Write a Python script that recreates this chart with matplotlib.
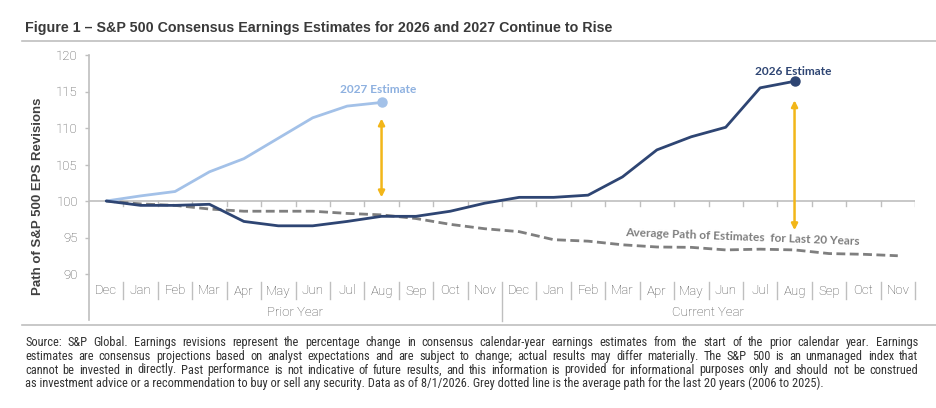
import matplotlib
matplotlib.use("Agg")
import matplotlib.pyplot as plt
from matplotlib.lines import Line2D
from matplotlib.transforms import blended_transform_factory
from matplotlib import font_manager as fm

# ---------------- data ----------------
months = ['Dec', 'Jan', 'Feb', 'Mar', 'Apr', 'May', 'Jun', 'Jul', 'Aug', 'Sep', 'Oct', 'Nov'] * 2
groups = ['Prior Year', 'Current Year']
est_2026 = [100.0, 99.4, 99.4, 99.55, 97.2, 96.6, 96.6, 97.2, 97.9, 97.9, 98.6, 99.7,
            100.5, 100.5, 100.8, 103.3, 107.0, 108.8, 110.1, 115.5, 116.4]
est_2027 = [100.0, 100.7, 101.3, 104.0, 105.8, 108.6, 111.4, 113.0, 113.5]
avg_path = [100.0, 99.6, 99.4, 98.9, 98.6, 98.6, 98.6, 98.3, 98.1, 97.6, 96.8, 96.2,
            95.8, 94.7, 94.5, 94.0, 93.7, 93.65, 93.3, 93.4, 93.3, 92.8, 92.7, 92.5]
arrow_2027 = (111.3, 100.5)   # (top, bottom) of the gold arrow at the 2027 end point
arrow_2026 = (113.8, 96.0)
y_ticks = [90, 95, 100, 105, 110, 115, 120]

title = "Figure 1 \u2013 S&P 500 Consensus Earnings Estimates for 2026 and 2027 Continue to Rise"
ylabel = "Path of S&P 500 EPS Revisions"
source_lines = [
    "Source: S&P Global. Earnings revisions represent the percentage change in consensus calendar-year earnings estimates from the start of the prior calendar year. Earnings",
    "estimates are consensus projections based on analyst expectations and are subject to change; actual results may differ materially. The S&P 500 is an unmanaged index that",
    "cannot be invested in directly. Past performance is not indicative of future results, and this information is provided for informational purposes only and should not be construed",
    "as investment advice or a recommendation to buy or sell any security. Data as of 8/1/2026. Grey dotted line is the average path for the last 20 years (2006 to 2025).",
]

# ---------------- style ----------------
navy = '#2E4573'
light = '#A3C1E8'
dash_gray = '#7F7F7F'
gold = '#F2B619'
axis_gray = '#BFBFBF'
tick_col = '#4D4D4D'

names = {f.name for f in fm.fontManager.ttflist}
def pick(*cands):
    for c in cands:
        if c in names:
            return c
    return 'DejaVu Sans'

f_title = pick('Liberation Sans', 'Arial')
f_tick = pick('Roboto', 'Liberation Sans')
f_ann = pick('Lato', 'Open Sans')
f_src = pick('Liberation Sans Narrow', 'Roboto Condensed', 'DejaVu Sans Condensed', 'Liberation Sans')

W, H = 936, 408
fig = plt.figure(figsize=(W / 100, H / 100), dpi=100)
fig.patch.set_facecolor('white')

def fx(px):
    return px / W

def fy(py):
    return 1 - py / H

ax_l, ax_r, ax_t, ax_b = 89, 915, 55, 274
ax = fig.add_axes([fx(ax_l), fy(ax_b), (ax_r - ax_l) / W, (ax_b - ax_t) / H])
ax.set_xlim(-0.5, len(months) - 0.5)
ax.set_ylim(90, 120)
for s in ax.spines.values():
    s.set_visible(False)
ax.set_facecolor('none')
ax.set_xticks([])
ax.set_yticks(y_ticks)
ax.tick_params(axis='y', length=3, width=1, color=axis_gray, labelcolor=tick_col,
               labelsize=9.5, pad=5)
for lab in ax.get_yticklabels():
    lab.set_fontfamily(f_tick)
    lab.set_fontweight('light')

axh = ax_b - ax_t
def ay(py):
    return (ax_b - py) / axh

# left axis line (extends through the category rows)
ax.plot([0, 0], [1, ay(320)], transform=ax.transAxes, color=axis_gray, lw=1.2, clip_on=False)
# horizontal axis at 100 with boundary ticks
ax.axhline(100, color=axis_gray, lw=1.2, zorder=1)
for k in range(1, len(months) + 1):
    ax.plot([k - 0.5, k - 0.5], [100, 99.3], color=axis_gray, lw=1, zorder=1)

trans = blended_transform_factory(ax.transData, ax.transAxes)
for i, m in enumerate(months):
    ax.text(i, ay(291), m, transform=trans, ha='center', va='center', fontsize=9.5,
            color=tick_col, fontfamily=f_tick, fontweight='light')
n_g = len(months) // len(groups)
for k in range(1, len(months) + 1):
    bottom = ay(321) if k == n_g else ay(299)
    ax.plot([k - 0.5, k - 0.5], [ay(282), bottom], transform=trans, color=axis_gray,
            lw=1, clip_on=False)
for g, name in enumerate(groups):
    ax.text(g * n_g + (n_g - 1) / 2, ay(313), name, transform=trans, ha='center', va='center',
            fontsize=9.5, color=tick_col, fontfamily=f_tick, fontweight='light')

# series
x26 = list(range(len(est_2026)))
x27 = list(range(len(est_2027)))
xav = list(range(len(avg_path)))
ax.plot(xav, avg_path, color=dash_gray, lw=2.0, ls=(0, (3.2, 1.6)), zorder=2)
ax.plot(x27, est_2027, color=light, lw=2.0, zorder=3, solid_capstyle='round')
ax.plot(x26, est_2026, color=navy, lw=2.0, zorder=4, solid_capstyle='round')
ax.plot([x27[-1]], [est_2027[-1]], 'o', color=light, ms=6.5, zorder=5)
ax.plot([x26[-1]], [est_2026[-1]], 'o', color=navy, ms=6.5, zorder=5)

# arrows
for xa, (top, bot) in [(x27[-1], arrow_2027), (x26[-1], arrow_2026)]:
    ax.annotate('', xy=(xa, top), xytext=(xa, bot),
                arrowprops=dict(arrowstyle='<|-|>', color=gold, lw=1.8, mutation_scale=9,
                                shrinkA=0, shrinkB=0), zorder=6)

# labels
ax.text(x27[-1] - 0.1, est_2027[-1] + 1.8, '2027 Estimate', ha='center', va='center',
        fontsize=8.6, fontweight='bold', color='#8EB1E0', fontfamily=f_ann)
ax.text(x26[-1] - 0.05, est_2026[-1] + 1.4, '2026 Estimate', ha='center', va='center',
        fontsize=8.6, fontweight='bold', color=navy, fontfamily=f_ann)
ax.text(18.5, 95.1, 'Average Path of Estimates  for Last 20 Years', ha='center', va='center',
        fontsize=8.6, fontweight='bold', color='#7F7F7F', fontfamily=f_ann, rotation=-2.2)

# title, y label, rules
fig.text(fx(25), fy(28), title, ha='left', va='center', fontsize=10.3, fontweight='bold',
         color='#3A3A3A', fontfamily=f_title)
fig.text(fx(38), fy(196), ylabel, rotation=90, ha='center', va='center', fontsize=9.5,
         fontweight='bold', color='#404040', fontfamily=f_title)
fig.add_artist(Line2D([fx(22), 1], [fy(41), fy(41)], color=axis_gray, lw=1.2))
fig.add_artist(Line2D([fx(22), 1], [fy(325), fy(325)], color=axis_gray, lw=1.2))

# source text (justified)
renderer = fig.canvas.get_renderer()
def width_of(s, size):
    t = fig.text(0, 0, s, fontsize=size, fontfamily=f_src)
    w = t.get_window_extent(renderer).width
    t.remove()
    return w

x0, x1 = 25, 918
last_target = 829 - 25
base = 8.0
size = base * last_target / width_of(source_lines[-1], base)
ys = [341, 355, 368.5, 382]
for li, line in enumerate(source_lines):
    if li < len(source_lines) - 1:
        words = line.split()
        ws = [width_of(w, size) for w in words]
        gap = (x1 - x0 - sum(ws)) / (len(words) - 1)
        x = x0
        for w, wd in zip(words, ws):
            fig.text(fx(x), fy(ys[li]), w, fontsize=size, fontfamily=f_src, color='#333333',
                     ha='left', va='center_baseline')
            x += wd + gap
    else:
        fig.text(fx(x0), fy(ys[li]), line, fontsize=size, fontfamily=f_src, color='#333333',
                 ha='left', va='center_baseline')

fig.savefig('out.png', dpi=100)
